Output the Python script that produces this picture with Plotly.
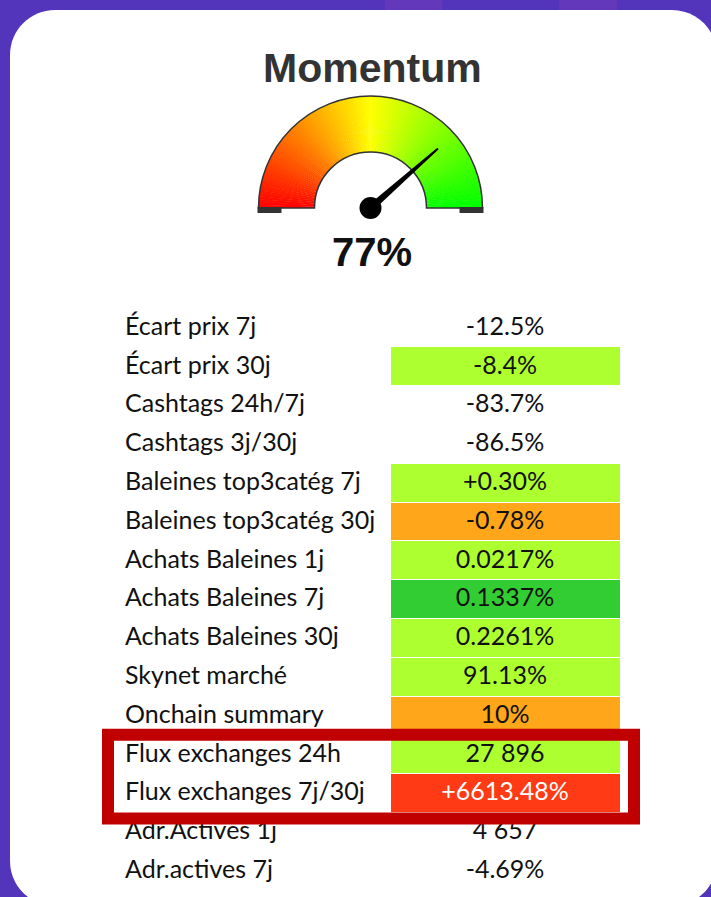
import math
import plotly.graph_objects as go

# ---------------- data ----------------
TITLE = "Momentum"
momentum_pct = 77

labels = ["Écart prix 7j", "Écart prix 30j", "Cashtags 24h/7j", "Cashtags 3j/30j",
          "Baleines top3catég 7j", "Baleines top3catég 30j", "Achats Baleines 1j",
          "Achats Baleines 7j", "Achats Baleines 30j", "Skynet marché", "Onchain summary",
          "Flux exchanges 24h", "Flux exchanges 7j/30j", "Adr.Actives 1j", "Adr.actives 7j"]
values = ["-12.5%", "-8.4%", "-83.7%", "-86.5%", "+0.30%", "-0.78%", "0.0217%",
          "0.1337%", "0.2261%", "91.13%", "10%", "27 896", "+6613.48%", "4 657", "-4.69%"]
signal = ["none", "light", "none", "none", "light", "warn", "light", "strong",
          "light", "light", "warn", "light", "alert", "none", "none"]
highlighted = ["Flux exchanges 24h", "Flux exchanges 7j/30j"]

# ---------------- style ----------------
W, H = 711, 897
BG = "#5335BB"
SIG_FILL = {"none": "#FFFFFF", "light": "#ADFF2F", "strong": "#32CD32",
            "warn": "#FFA61A", "alert": "#FF3A14"}
SIG_FONT = {"none": "#111111", "light": "#111111", "strong": "#111111",
            "warn": "#111111", "alert": "#FFFFFF"}
GRAD = [(255, 0, 0), (255, 255, 0), (0, 255, 0)]
TFONT = "Lato, Carlito, sans-serif"

CX, CY, R = 370.5, 208.0, 112.0
HOLE = 0.5
TAB_X0, TAB_X1, LAB_W = 117, 620, 273
TAB_Y0, ROW_H = 308.0, 38.8


def px(x):
    return x / W


def py(y):
    return 1 - y / H


def grad_color(t):
    if t <= 0.5:
        a, b, f = GRAD[0], GRAD[1], t / 0.5
    else:
        a, b, f = GRAD[1], GRAD[2], (t - 0.5) / 0.5
    c = [round(a[i] + (b[i] - a[i]) * f) for i in range(3)]
    return "rgb(%d,%d,%d)" % tuple(c)


fig = go.Figure()

# ---- gauge arc (gradient) ----
N = 120
thetas, cols = [], []
for i in range(N):
    t = (i + 0.5) / N
    thetas.append(180 - t * 180)
    cols.append(grad_color(t))
fig.add_trace(go.Barpolar(r=[1] * N, theta=thetas, width=[180 / N + 0.3] * N,
                          marker=dict(color=cols, line=dict(width=0)),
                          hoverinfo="skip", showlegend=False))

# ---- table ----
fills_lab = ["#FFFFFF"] * len(labels)
fills_val = [SIG_FILL[s] for s in signal]
fcol_val = [SIG_FONT[s] for s in signal]
fig.add_trace(go.Table(
    domain=dict(x=[px(TAB_X0), px(TAB_X1)], y=[0, py(TAB_Y0)]),
    columnwidth=[LAB_W, TAB_X1 - TAB_X0 - LAB_W],
    header=dict(values=["", ""], height=0, fill=dict(color="rgba(0,0,0,0)"),
                line=dict(width=0)),
    cells=dict(values=[labels, values], height=ROW_H,
               fill=dict(color=[fills_lab, fills_val]),
               line=dict(color="white", width=1),
               align=["left", "center"],
               font=dict(family=TFONT, size=25, color=[["#111111"] * len(labels), fcol_val])),
))

# ---------------- shapes ----------------
shapes = []
# card
x0, y0, x1, y1, rr = 10, 10, 717, 906, 45
k = 0.5523 * rr
pts = [
    f"M{px(x0 + rr)},{py(y0)}", f"L{px(x1 - rr)},{py(y0)}",
    f"C{px(x1 - rr + k)},{py(y0)} {px(x1)},{py(y0 + rr - k)} {px(x1)},{py(y0 + rr)}",
    f"L{px(x1)},{py(y1 - rr)}",
    f"C{px(x1)},{py(y1 - rr + k)} {px(x1 - rr + k)},{py(y1)} {px(x1 - rr)},{py(y1)}",
    f"L{px(x0 + rr)},{py(y1)}",
    f"C{px(x0 + rr - k)},{py(y1)} {px(x0)},{py(y1 - rr + k)} {px(x0)},{py(y1 - rr)}",
    f"L{px(x0)},{py(y0 + rr)}",
    f"C{px(x0)},{py(y0 + rr - k)} {px(x0 + rr - k)},{py(y0)} {px(x0 + rr)},{py(y0)}", "Z"]
shapes.append(dict(type="path", path=" ".join(pts), xref="paper", yref="paper",
                   fillcolor="white", line=dict(width=0), layer="below"))
# lighter stripes on top background
for sx0, sx1 in [(385, 442), (559, 617)]:
    shapes.append(dict(type="rect", xref="paper", yref="paper", x0=px(sx0), x1=px(sx1),
                       y0=py(10), y1=1, fillcolor="#6338BA", line=dict(width=0), layer="below"))

# gauge end bars
for bx0, bx1 in [(CX - R - 1, CX - R + 23), (CX + R - 23, CX + R + 1)]:
    shapes.append(dict(type="rect", xref="paper", yref="paper", x0=px(bx0), x1=px(bx1),
                       y0=py(213), y1=py(207), fillcolor="#333333", line=dict(width=0),
                       layer="above"))

# needle
ang = math.pi * (1 - momentum_pct / 100)
L = 90
ux, uy = math.cos(ang), -math.sin(ang)
nx, ny = -uy, ux
bw, tw = 3.6, 1.0
tipx, tipy = CX + L * ux, CY + L * uy
npath = (f"M{px(CX + nx * bw)},{py(CY + ny * bw)} "
         f"L{px(tipx + nx * tw)},{py(tipy + ny * tw)} "
         f"L{px(tipx - nx * tw)},{py(tipy - ny * tw)} "
         f"L{px(CX - nx * bw)},{py(CY - ny * bw)} Z")
shapes.append(dict(type="path", path=npath, xref="paper", yref="paper",
                   fillcolor="black", line=dict(width=0), layer="above"))
pr = 11
shapes.append(dict(type="circle", xref="paper", yref="paper", x0=px(CX - pr), x1=px(CX + pr),
                   y0=py(CY + pr), y1=py(CY - pr), fillcolor="black", line=dict(width=0),
                   layer="above"))

# highlight box around selected rows
idx = [labels.index(h) for h in highlighted]
hb_top = TAB_Y0 + min(idx) * ROW_H
hb_bot = TAB_Y0 + (max(idx) + 1) * ROW_H + 6
shapes.append(dict(type="rect", xref="paper", yref="paper", x0=px(108), x1=px(634),
                   y0=py(hb_bot), y1=py(hb_top), line=dict(color="#C00000", width=12),
                   fillcolor="rgba(0,0,0,0)", layer="above"))

annotations = [
    dict(text="<b>%s</b>" % TITLE, x=px(372), y=py(68), xref="paper", yref="paper",
         xanchor="center", yanchor="middle", showarrow=False,
         font=dict(family="Liberation Sans, Arial", size=41, color="#333333")),
    dict(text="<b>%d%%</b>" % momentum_pct, x=px(372), y=py(252), xref="paper", yref="paper",
         xanchor="center", yanchor="middle", showarrow=False,
         font=dict(family="Liberation Sans, Arial", size=40, color="#111111")),
]

fig.update_layout(
    width=W, height=H, margin=dict(l=0, r=0, t=0, b=0),
    paper_bgcolor=BG, plot_bgcolor="rgba(0,0,0,0)", showlegend=False,
    shapes=shapes, annotations=annotations,
    polar=dict(domain=dict(x=[px(CX - R), px(CX + R)], y=[py(CY), py(CY - R)]),
               sector=[0, 180], hole=HOLE, bgcolor="rgba(0,0,0,0)",
               radialaxis=dict(visible=False, range=[0, 1]),
               angularaxis=dict(showticklabels=False, ticks="", showgrid=False,
                                showline=True, linecolor="#333333", linewidth=1.5,
                                direction="counterclockwise", rotation=0)),
)

fig.write_html("out.html", config={"displayModeBar": False},
               post_script="document.body.style.margin='0px';document.body.style.overflow='hidden';")
